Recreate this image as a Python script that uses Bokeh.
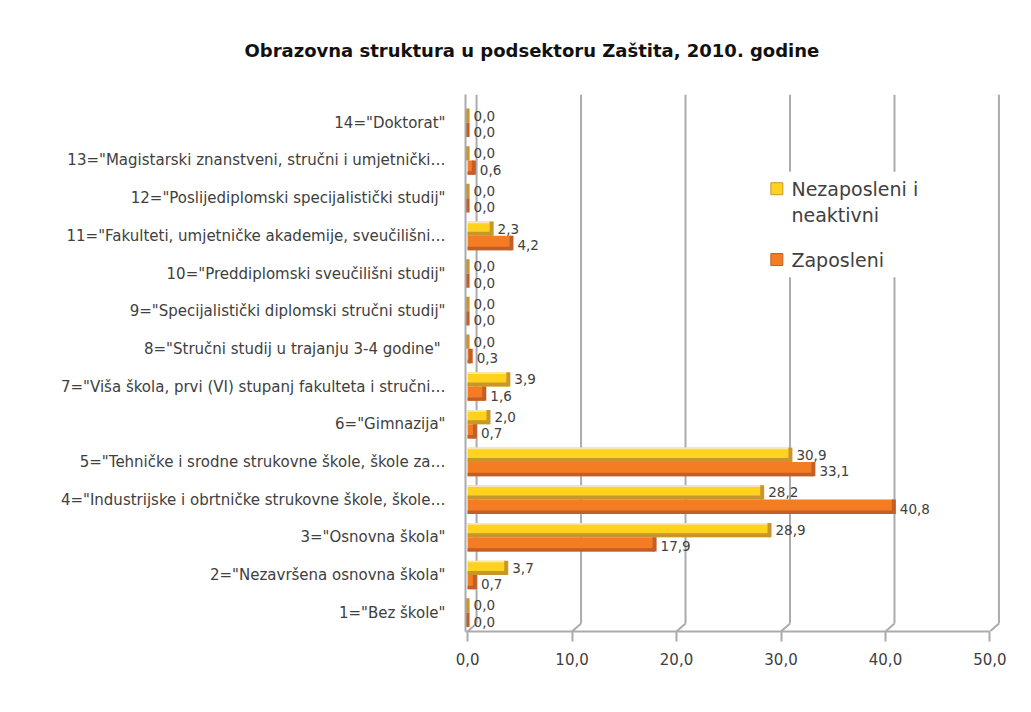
from bokeh.plotting import figure
from bokeh.models import Range1d, FixedTicker
from bokeh.core.properties import value
from bokeh.embed import file_html
from bokeh.resources import INLINE

# ---------------- data ----------------
categories = [
    '1="Bez škole"',
    '2="Nezavršena osnovna škola"',
    '3="Osnovna škola"',
    '4="Industrijske i obrtničke strukovne škole, škole…',
    '5="Tehničke i srodne strukovne škole, škole za…',
    '6="Gimnazija"',
    '7="Viša škola, prvi (VI) stupanj fakulteta i stručni…',
    '8="Stručni studij u trajanju  3-4 godine"',
    '9="Specijalistički diplomski stručni studij"',
    '10="Preddiplomski sveučilišni studij"',
    '11="Fakulteti, umjetničke akademije, sveučilišni…',
    '12="Poslijediplomski specijalistički studij"',
    '13="Magistarski znanstveni, stručni i umjetnički…',
    '14="Doktorat"',
]
nezaposleni = [0.0, 3.7, 28.9, 28.2, 30.9, 2.0, 3.9, 0.0, 0.0, 0.0, 2.3, 0.0, 0.0, 0.0]
zaposleni = [0.0, 0.7, 17.9, 40.8, 33.1, 0.7, 1.6, 0.3, 0.0, 0.0, 4.2, 0.0, 0.6, 0.0]
series_names = ["Nezaposleni i", "neaktivni", "Zaposleni"]
x_ticks = [0, 10, 20, 30, 40, 50]
x_tick_labels = ["0,0", "10,0", "20,0", "30,0", "40,0", "50,0"]
title_text = "Obrazovna struktura u podsektoru Zaštita, 2010. godine"

# ---------------- style ----------------
YEL = "#FFD21E"
YEL_DARK = "#C8962A"
YEL_TOP = "#F6E7B8"
ORA = "#F47D23"
ORA_DARK = "#C25E28"
GRID = "#ababab"
TXT = "#404040"
FONT = "DejaVu Sans"
DEPTH_X = 0.86   # 3D depth of back wall (x units)
DEPTH_Y = 0.21   # 3D depth (y units)
BAR_H = 0.38
DODGE = 0.19

pos = list(range(1, len(categories) + 1))
y_yel = [p_ + DODGE for p_ in pos]
y_ora = [p_ - DODGE for p_ in pos]

p = figure(width=1015, height=696, output_backend="svg", toolbar_location=None,
           x_range=Range1d(-0.2, 51.2), y_range=Range1d(0.5, 14.75),
           min_border_left=465, min_border_right=13,
           min_border_top=94, min_border_bottom=65)
p.background_fill_color = "white"
p.border_fill_color = "white"
p.outline_line_color = None
p.xgrid.visible = False
p.ygrid.visible = False

# title
p.title.text = title_text
p.title.align = "left"
p.title.offset = -221
p.title.text_font = FONT
p.title.text_font_size = "18px"
p.title.text_font_style = "bold"
p.title.text_color = "#111111"
p.title.standoff = 67

# 3D-like gridlines on the back wall
gx_back = [t + DEPTH_X for t in x_ticks]
p.segment(x0=gx_back, y0=[0.5 + DEPTH_Y] * len(x_ticks), x1=gx_back,
          y1=[14.75] * len(x_ticks), line_color=GRID, line_width=2)
p.segment(x0=x_ticks, y0=[0.5] * len(x_ticks), x1=gx_back,
          y1=[0.5 + DEPTH_Y] * len(x_ticks), line_color=GRID, line_width=2)

# bars - yellow (Nezaposleni i neaktivni)
p.hbar(y=y_yel, left=0, right=nezaposleni, height=BAR_H, fill_color=YEL, line_color=None)
p.hbar(y=[y - BAR_H * 0.36 for y in y_yel], left=0, right=nezaposleni, height=BAR_H * 0.28,
       fill_color=YEL_DARK, line_color=None)
p.hbar(y=[y + BAR_H * 0.44 for y in y_yel], left=0, right=nezaposleni, height=BAR_H * 0.12,
       fill_color=YEL_TOP, line_color=None)
p.rect(x=nezaposleni, y=y_yel, width=4, width_units="screen", height=BAR_H,
       fill_color=YEL_DARK, line_color=None)

# bars - orange (Zaposleni)
p.hbar(y=y_ora, left=0, right=zaposleni, height=BAR_H, fill_color=ORA, line_color=None)
p.hbar(y=[y - BAR_H * 0.38 for y in y_ora], left=0, right=zaposleni, height=BAR_H * 0.24,
       fill_color=ORA_DARK, line_color=None)
p.rect(x=zaposleni, y=y_ora, width=4, width_units="screen", height=BAR_H,
       fill_color=ORA_DARK, line_color=None)

# value labels
fmt = lambda v: f"{v:.1f}".replace(".", ",")
p.text(x=nezaposleni, y=y_yel, text=[fmt(v) for v in nezaposleni], x_offset=6,
       text_baseline="middle", text_font=value(FONT), text_font_size="13.5px", text_color=TXT)
p.text(x=zaposleni, y=y_ora, text=[fmt(v) for v in zaposleni], x_offset=6, y_offset=2,
       text_baseline="middle", text_font=value(FONT), text_font_size="13.5px", text_color=TXT)

# legend (manual, white box)
p.quad(left=[28.8], right=[45.5], bottom=[9.9], top=[12.7], fill_color="white", line_color=None)
p.scatter(x=[29.6], y=[12.25], marker="square", size=12, fill_color=YEL, line_color=YEL_DARK)
p.scatter(x=[29.6], y=[10.37], marker="square", size=12, fill_color=ORA, line_color=ORA_DARK)
p.text(x=[31.0, 31.0, 31.0], y=[12.25, 11.56, 10.37], text=series_names,
       text_baseline="middle", text_font=value(FONT), text_font_size="19px", text_color=TXT)

# x axis
xa = p.xaxis[0]
xa.ticker = FixedTicker(ticks=x_ticks)
xa.major_label_overrides = dict(zip(x_ticks, x_tick_labels))
xa.bounds = (-0.2, 50)
xa.axis_line_color = GRID
xa.axis_line_width = 2
xa.major_tick_line_color = GRID
xa.major_tick_line_width = 2
xa.major_tick_out = 10
xa.major_tick_in = 0
xa.minor_tick_line_color = None
xa.major_label_standoff = 11
xa.major_label_text_font = FONT
xa.major_label_text_font_size = "15px"
xa.major_label_text_color = TXT

# y axis
ya = p.yaxis[0]
ya.ticker = FixedTicker(ticks=pos)
ya.major_label_overrides = dict(zip(pos, categories))
ya.axis_line_color = GRID
ya.axis_line_width = 2
ya.major_tick_out = 0
ya.major_tick_in = 0
ya.minor_tick_line_color = None
ya.major_label_standoff = 20
ya.major_label_text_font = FONT
ya.major_label_text_font_size = "15px"
ya.major_label_text_color = TXT

open("out.html", "w").write(file_html(p, INLINE))
